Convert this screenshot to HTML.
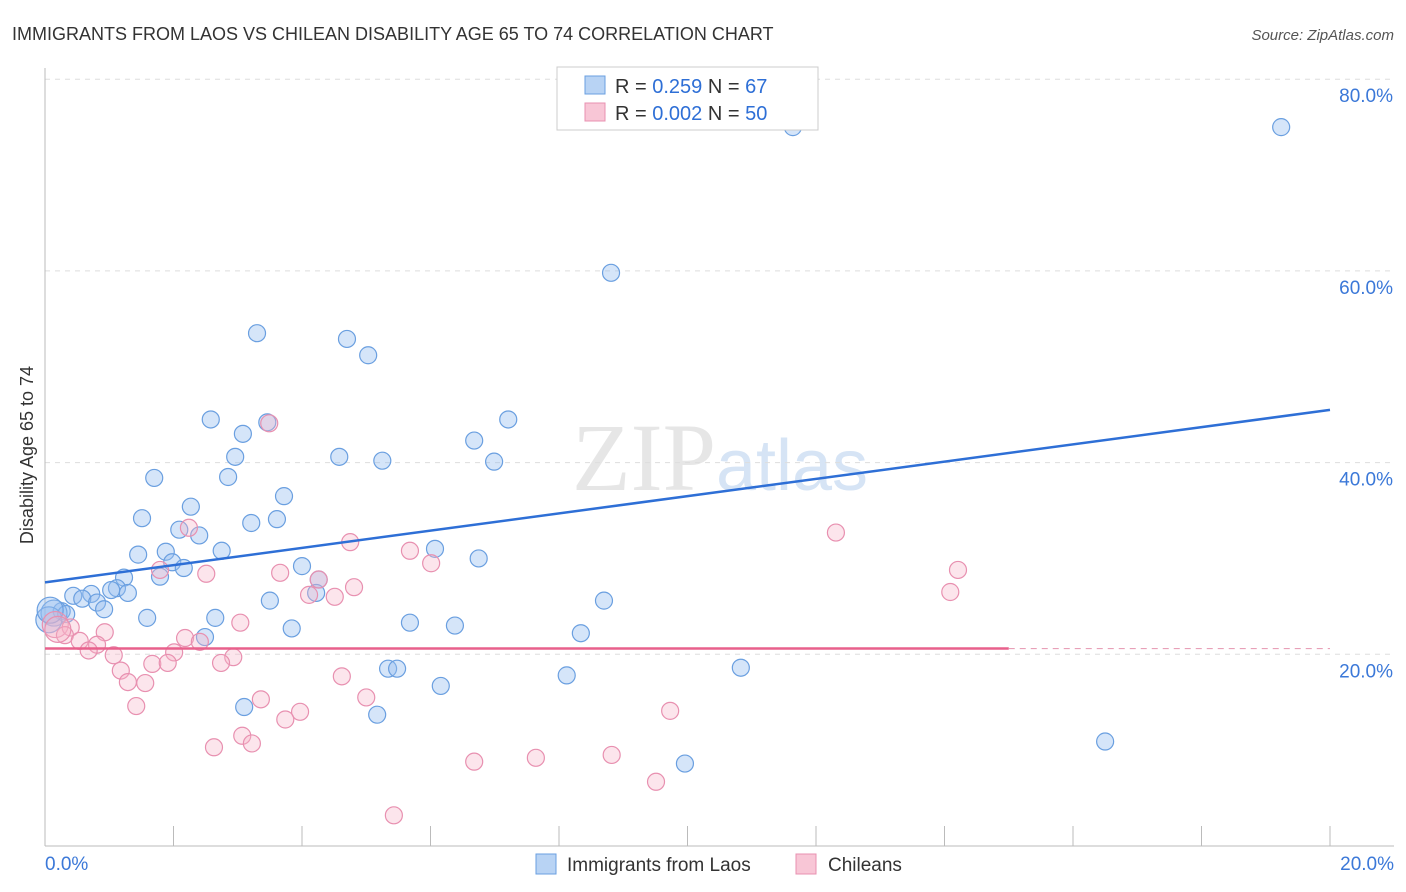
<!DOCTYPE html>
<html><head><meta charset="utf-8"><style>
body{margin:0;background:#fff;font-family:"Liberation Sans",sans-serif;}
svg{display:block}
</style></head><body>
<svg id="chart" width="1406" height="892" xmlns="http://www.w3.org/2000/svg">
<text x="12" y="40" font-size="18" fill="#333">IMMIGRANTS FROM LAOS VS CHILEAN DISABILITY AGE 65 TO 74 CORRELATION CHART</text>
<text x="1394" y="40" font-size="15" fill="#555" font-style="italic" text-anchor="end">Source: ZipAtlas.com</text>
<text x="720" y="490" font-size="96" text-anchor="middle" fill="#e6e6e6" font-family="Liberation Serif,serif">ZIP<tspan fill="#d6e4f5" font-family="Liberation Sans,sans-serif" font-size="72">atlas</tspan></text>
<text transform="translate(33,455) rotate(-90)" font-size="18" fill="#333" text-anchor="middle">Disability Age 65 to 74</text>
<g id="axes"></g>
<g id="marks"></g>
<g>
<rect x="557" y="67" width="261" height="63" fill="#fff" stroke="#ccc"/>
<rect x="585" y="76" width="20" height="18" fill="#b8d3f4" stroke="#6a9fe0"/>
<text x="615" y="93" font-size="20" fill="#333">R = <tspan fill="#2e6fd6">0.259</tspan>   N = <tspan fill="#2e6fd6">67</tspan></text>
<rect x="585" y="103" width="20" height="18" fill="#f8c6d6" stroke="#e890b0"/>
<text x="615" y="120" font-size="20" fill="#333">R = <tspan fill="#2e6fd6">0.002</tspan>   N = <tspan fill="#2e6fd6">50</tspan></text>
</g>
<g>
<rect x="536" y="854" width="20" height="20" fill="#b8d3f4" stroke="#6a9fe0"/>
<text x="567" y="871" font-size="19" fill="#333">Immigrants from Laos</text>
<rect x="796" y="854" width="20" height="20" fill="#f8c6d6" stroke="#e890b0"/>
<text x="828" y="871" font-size="19" fill="#333">Chileans</text>
</g>
</svg>
<script>
const blueX=[11.64,19.24,8.81,3.30,4.70,5.03,2.58,3.46,7.21,3.08,2.96,4.58,6.68,5.25,6.99,1.70,2.85,3.72,2.27,1.51,3.21,3.61,2.09,2.40,6.07,1.45,1.88,2.75,6.75,1.98,2.16,4.00,1.79,1.23,4.26,1.12,1.03,1.29,0.72,0.44,0.58,4.22,0.81,0.92,3.50,8.70,0.26,0.14,0.33,1.59,2.65,0.06,3.84,5.68,6.38,2.49,8.34,5.34,5.48,10.83,6.16,8.12,3.10,5.17,16.50,9.96,0.08];
const blueY=[75.0,75.0,59.8,53.5,52.9,51.2,44.5,44.2,44.5,43.0,40.6,40.6,42.3,40.2,40.1,38.4,38.5,36.5,35.4,34.2,33.7,34.1,33.0,32.4,31.0,30.4,30.7,30.8,30.0,29.6,29.0,29.2,28.1,28.0,27.8,26.9,26.7,26.4,26.3,26.1,25.8,26.4,25.4,24.7,25.6,25.6,24.5,24.3,24.2,23.8,23.8,23.6,22.7,23.3,23.0,21.8,22.2,18.5,18.5,18.6,16.7,17.8,14.5,13.7,10.9,8.6,24.6];
const pinkX=[3.49,2.24,12.31,4.75,5.68,6.01,14.21,2.51,3.66,1.79,4.26,4.81,4.11,4.51,14.09,3.04,0.16,0.40,0.93,0.31,0.54,0.81,2.18,2.41,0.68,1.07,2.01,2.93,1.67,1.91,2.74,1.18,4.62,1.29,1.56,5.00,3.36,1.42,9.73,3.97,3.74,3.07,3.22,2.63,6.68,7.64,8.82,9.51,5.43,0.20];
const pinkY=[44.1,33.2,32.7,31.7,30.8,29.5,28.8,28.4,28.5,28.8,27.8,27.0,26.2,26.0,26.5,23.3,23.1,22.8,22.3,22.0,21.4,21.0,21.7,21.3,20.4,19.9,20.2,19.7,19.0,19.1,19.1,18.3,17.7,17.1,17.0,15.5,15.3,14.6,14.1,14.0,13.2,11.5,10.7,10.3,8.8,9.2,9.5,6.7,3.2,22.6];
const yTicks=[20,40,60,80];
const yTickLabels=["20.0%","40.0%","60.0%","80.0%"];
const xTickValues=[0,2,4,6,8,10,12,14,16,18,20];
const blueTrend=[27.5,45.5];
const pinkTrend=[20.6,20.6];
const pinkTrendEnd=15.0;

const X0=45,X1=1330,Y0=846,YS=9.585;
const sx=v=>X0+(X1-X0)*v/20;
const sy=v=>Y0-v*YS;
const NS="http://www.w3.org/2000/svg";
function mk(tag,attrs,parent){const e=document.createElementNS(NS,tag);for(const k in attrs)e.setAttribute(k,attrs[k]);parent.appendChild(e);return e;}
const axes=document.getElementById('axes'),marks=document.getElementById('marks');
yTicks.forEach((t,i)=>{
 const g=mk('line',{x1:X0,x2:1394,y1:sy(t),y2:sy(t),stroke:'#ddd','stroke-dasharray':'5,5'},axes);
 
 
 const l=mk('text',{x:1393,y:sy(t)+23,'font-size':19,fill:'#3b78d8','text-anchor':'end'},axes);
 l.textContent=yTickLabels[i];
 
 
});
const ax=mk('line',{x1:X0,x2:X0,y1:68,y2:846,stroke:'#bbb'},axes);


const bx=mk('line',{x1:X0,x2:1394,y1:846,y2:846,stroke:'#bbb'},axes);


xTickValues.forEach(t=>{
 const tk=mk('line',{x1:sx(t),x2:sx(t),y1:826,y2:846,stroke:'#bbb'},axes);
 
 
});
const xl0=mk('text',{x:45,y:870,'font-size':19,fill:'#3b78d8'},axes);xl0.textContent="0.0%";


const xl1=mk('text',{x:1394,y:870,'font-size':19,fill:'#3b78d8','text-anchor':'end'},axes);xl1.textContent="20.0%";



blueX.forEach((v,i)=>{
 const c=mk('circle',{cx:sx(v),cy:sy(blueY[i]),r:v<0.2?13:8.5,fill:'rgba(150,190,240,0.4)',stroke:'#6a9fe0','stroke-width':1.2},marks);
 
 
});
pinkX.forEach((v,i)=>{
 const c=mk('circle',{cx:sx(v),cy:sy(pinkY[i]),r:v<0.25?13:8.5,fill:'rgba(245,180,200,0.35)',stroke:'#e890b0','stroke-width':1.2},marks);
 
 
});
const bt=mk('line',{x1:sx(0),y1:sy(blueTrend[0]),x2:sx(20),y2:sy(blueTrend[1]),stroke:'#2e6fd6','stroke-width':2.5},marks);


const pt=mk('line',{x1:sx(0),y1:sy(pinkTrend[0]),x2:sx(pinkTrendEnd),y2:sy(pinkTrend[0]+(pinkTrend[1]-pinkTrend[0])*pinkTrendEnd/20),stroke:'#e8608c','stroke-width':2.5},marks);


const pd=mk('line',{x1:sx(pinkTrendEnd),y1:sy(pinkTrend[0]),x2:sx(20),y2:sy(pinkTrend[1]),stroke:'#e8a0b8','stroke-width':1.2,'stroke-dasharray':'6,5'},marks);


</script>
</body></html>
